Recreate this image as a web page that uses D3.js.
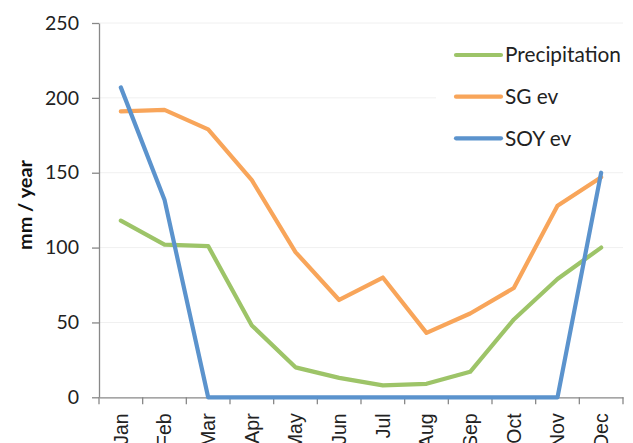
<!DOCTYPE html>
<html>
<head>
<meta charset="utf-8">
<script src="https://cdn.jsdelivr.net/npm/d3@7"></script>
<style>
  html, body { margin: 0; padding: 0; background: #fff; }
  svg { display: block; font-family: Lato, "Open Sans", sans-serif; }
</style>
</head>
<body>
<svg id="chart" width="633" height="443"></svg>
<script>
const months = ["Jan","Feb","Mar","Apr","May","Jun","Jul","Aug","Sep","Oct","Nov","Dec"];
const precipitation = [118, 102, 101, 48, 20, 13, 8, 9, 17, 52, 79, 100];
const sgEv = [191, 192, 179, 145, 97, 65, 80, 43, 56, 73, 128, 147];
const soyEv = [207, 132, 0, 0, 0, 0, 0, 0, 0, 0, 0, 150];
const yTicks = [0, 50, 100, 150, 200, 250];
const seriesNames = ["Precipitation", "SG ev", "SOY ev"];
const seriesColors = ["#9DC468", "#F8A55A", "#5B93CD"];
const seriesData = [precipitation, sgEv, soyEv];

const W = 633, H = 443;
const margin = { left: 99, right: 10, top: 23, bottom: 45.7 };
const svg = d3.select("#chart");

const x = d3.scaleBand().domain(months).range([margin.left, W - margin.right]).padding(0);
const y = d3.scaleLinear().domain([0, 250]).range([H - margin.bottom, margin.top]);
const cx = m => x(m) + x.bandwidth() / 2;

// gridlines
svg.append("g").selectAll("line").data(yTicks.filter(d => d > 0)).join("line")
  .attr("x1", margin.left).attr("x2", W - margin.right)
  .attr("y1", d => y(d)).attr("y2", d => y(d))
  .attr("stroke", "#F0F0F0").attr("stroke-width", 1);

// y axis
const yAxis = svg.append("g").attr("transform", `translate(${margin.left},0)`)
  .call(d3.axisLeft(y).tickValues(yTicks).tickSize(7).tickPadding(13).tickSizeOuter(0));
yAxis.select(".domain").attr("stroke", "#888").attr("stroke-width", 1.3);
yAxis.selectAll(".tick line").attr("stroke", "#888").attr("stroke-width", 1.3);
yAxis.selectAll(".tick text").attr("font-size", 19.5).attr("fill", "#222")
  .attr("font-family", "Lato, sans-serif");

// x axis
const xAxis = svg.append("g").attr("transform", `translate(0,${y(0)})`)
  .call(d3.axisBottom(x).tickSize(0).tickSizeOuter(0));
xAxis.select(".domain").attr("stroke", "#888").attr("stroke-width", 1.3);
xAxis.selectAll(".tick line").remove();
xAxis.selectAll(".tick text")
  .attr("font-size", 19.5).attr("fill", "#222")
  .attr("text-anchor", "end")
  .attr("transform", "rotate(-90)")
  .attr("x", -16).attr("y", 0).attr("dy", "0.35em");
const boundaries = months.map(m => x(m)).concat([x(months[months.length - 1]) + x.bandwidth()]);
xAxis.append("g").selectAll("line").data(boundaries).join("line")
  .attr("x1", d => d).attr("x2", d => d).attr("y1", 0).attr("y2", 7)
  .attr("stroke", "#888").attr("stroke-width", 1.3);

// y axis title
const yTitle = svg.append("text")
  .attr("transform", `translate(25,205) rotate(-90)`)
  .attr("text-anchor", "middle").attr("dy", "0.35em")
  .attr("font-size", 20).attr("font-weight", "bold").attr("fill", "#111")
  .text("mm / year");
{
  const len = yTitle.node().getComputedTextLength();
  if (len > 0) yTitle.attr("font-size", 20 * 90 / len);
}

// lines
const line = d3.line().x((d, i) => cx(months[i])).y(d => y(d));
svg.append("g").selectAll("path").data(seriesData).join("path")
  .attr("d", d => line(d))
  .attr("fill", "none")
  .attr("stroke", (d, i) => seriesColors[i])
  .attr("stroke-width", 4.2)
  .attr("stroke-linejoin", "round")
  .attr("stroke-linecap", "round");

// legend
const lg = svg.append("g");
lg.append("rect").attr("x", 436).attr("y", 30).attr("width", 197).attr("height", 130).attr("fill", "#fff");
const legendY = [55, 96.7, 138.3];
const items = lg.selectAll("g.item").data(seriesNames).join("g").attr("class", "item")
  .attr("transform", (d, i) => `translate(0,${legendY[i]})`);
items.append("line").attr("x1", 456).attr("x2", 501).attr("y1", 0).attr("y2", 0)
  .attr("stroke", (d, i) => seriesColors[i]).attr("stroke-width", 4.2).attr("stroke-linecap", "round");
const legendTexts = items.append("text").attr("x", 505).attr("dy", "0.35em")
  .attr("font-size", 20).attr("fill", "#222").text(d => d);
{
  const len = legendTexts.filter((d, i) => i === 0).node().getComputedTextLength();
  if (len > 0) legendTexts.attr("font-size", Math.min(22, 20 * 116 / len));
}
</script>
</body>
</html>
